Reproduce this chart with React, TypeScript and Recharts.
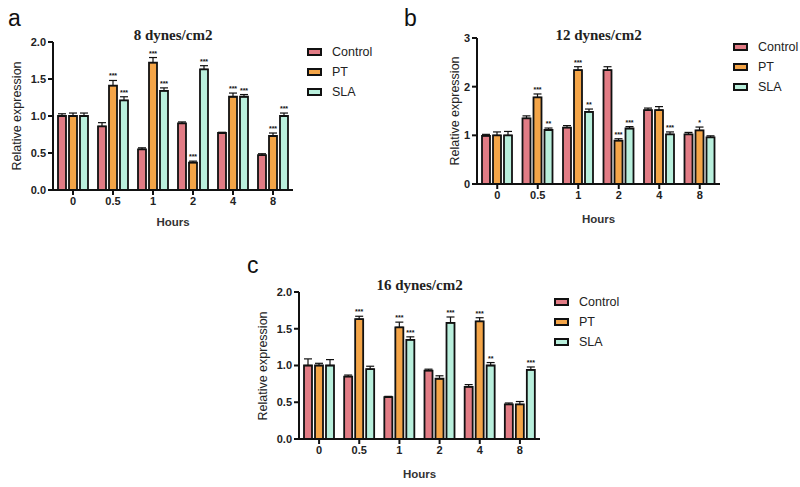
import React from 'react';
import { BarChart, Bar, XAxis, YAxis, ErrorBar, LabelList } from 'recharts';

const hours = ['0', '0.5', '1', '2', '4', '8'];
const seriesNames = ['Control', 'PT', 'SLA'];
const seriesColors = ['#e27c85', '#f4a548', '#b9efdc'];

// panel a: 8 dynes/cm2
const controlA = [1.0, 0.86, 0.55, 0.9, 0.77, 0.47];
const ptA = [1.0, 1.41, 1.72, 0.37, 1.26, 0.73];
const slaA = [1.0, 1.21, 1.34, 1.63, 1.26, 1.0];
const controlErrA = [0.03, 0.05, 0.02, 0.02, 0.01, 0.02];
const ptErrA = [0.04, 0.07, 0.07, 0.02, 0.05, 0.04];
const slaErrA = [0.04, 0.05, 0.04, 0.05, 0.03, 0.04];
const ptStarsA = ['', '***', '***', '***', '***', '***'];
const slaStarsA = ['', '***', '***', '***', '***', '***'];

// panel b: 12 dynes/cm2
const controlB = [0.99, 1.35, 1.16, 2.34, 1.52, 1.02];
const ptB = [1.0, 1.78, 2.34, 0.89, 1.52, 1.1];
const slaB = [1.0, 1.11, 1.48, 1.14, 1.02, 0.96];
const controlErrB = [0.03, 0.05, 0.04, 0.07, 0.04, 0.04];
const ptErrB = [0.07, 0.07, 0.07, 0.04, 0.07, 0.07];
const slaErrB = [0.08, 0.04, 0.06, 0.04, 0.05, 0.03];
const ptStarsB = ['', '***', '***', '***', '', '*'];
const slaStarsB = ['', '**', '**', '***', '***', ''];

// panel c: 16 dynes/cm2
const controlC = [1.0, 0.85, 0.57, 0.93, 0.71, 0.47];
const ptC = [1.0, 1.63, 1.52, 0.82, 1.6, 0.47];
const slaC = [1.0, 0.95, 1.35, 1.58, 1.0, 0.94];
const controlErrC = [0.09, 0.02, 0.01, 0.02, 0.03, 0.02];
const ptErrC = [0.03, 0.04, 0.07, 0.04, 0.05, 0.04];
const slaErrC = [0.08, 0.04, 0.04, 0.08, 0.04, 0.04];
const ptStarsC = ['', '***', '***', '', '***', ''];
const slaStarsC = ['', '', '***', '***', '**', '***'];

const emptyStars = ['', '', '', '', '', ''];

const ticks2 = [0, 0.5, 1, 1.5, 2];
const ticks3 = [0, 1, 2, 3];

const sans = 'Arial, "Liberation Sans", sans-serif';
const serif = '"Times New Roman", "Liberation Serif", serif';

function buildRows(vals: number[][], errs: number[][]) {
  return hours.map((h, i) => ({
    hour: h,
    s0: vals[0][i], s1: vals[1][i], s2: vals[2][i],
    e0: [0, errs[0][i]], e1: [0, errs[1][i]], e2: [0, errs[2][i]],
  }));
}

function starsLabel(vals: number[], errs: number[], stars: string[]) {
  return (p: any) => {
    const i = p.index;
    const s = stars[i];
    if (!s) return null;
    const pxPerUnit = p.height / vals[i];
    const top = p.y - errs[i] * pxPerUnit - 2;
    return (
      <text x={p.x + p.width / 2} y={top} textAnchor="middle" fontSize={7} fontWeight="bold" fontFamily={sans} fill="#111">
        {s}
      </text>
    );
  };
}

function LegendBox({ x, y }: { x: number; y: number }) {
  return (
    <div style={{ position: 'absolute', left: x, top: y }}>
      {seriesNames.map((n, i) => (
        <div key={n} style={{ display: 'flex', alignItems: 'center', height: 20, fontFamily: sans, fontSize: 12.5, color: '#222' }}>
          <span style={{ display: 'inline-block', width: 11, height: 4, background: seriesColors[i], border: '2px solid #111', marginRight: 10 }} />
          {n}
        </div>
      ))}
    </div>
  );
}

interface PanelProps {
  letter: string;
  title: string;
  x0: number; y0: number; w: number; h: number;
  vals: number[][]; errs: number[][]; stars: string[][];
  domainMax: number; ticks: number[]; fixed: number;
  legendX: number; legendY: number;
  letterPos: [number, number];
  titleY: number;
  yLabelX: number;
  hoursY: number;
}

function Panel(p: PanelProps) {
  const rows = buildRows(p.vals, p.errs);
  const left = p.x0 - 50;
  const top = p.y0 - 10;
  return (
    <>
      <div style={{ position: 'absolute', left: p.letterPos[0], top: p.letterPos[1], fontFamily: sans, fontSize: 23, color: '#111', lineHeight: 1 }}>{p.letter}</div>
      <div style={{ position: 'absolute', left: p.x0, width: p.w, top: p.titleY, textAlign: 'center', fontFamily: serif, fontWeight: 'bold', fontSize: 15, color: '#222', lineHeight: 1 }}>{p.title}</div>
      <div style={{ position: 'absolute', left: p.yLabelX - 80, width: 160, top: p.y0 + p.h / 2 - 8, textAlign: 'center', transform: 'rotate(-90deg)', fontFamily: sans, fontSize: 12.5, color: '#222', lineHeight: '16px' }}>Relative expression</div>
      <div style={{ position: 'absolute', left: p.x0, width: p.w, top: p.hoursY - 7, textAlign: 'center', fontFamily: sans, fontWeight: 'bold', fontSize: 11.5, color: '#333', lineHeight: 1 }}>Hours</div>
      <LegendBox x={p.legendX} y={p.legendY} />
      <div style={{ position: 'absolute', left, top }}>
        <BarChart width={p.w + 60} height={p.h + 50} data={rows} margin={{ top: 10, right: 10, bottom: 10, left: 10 }} barSize={8} barGap={3}>
          <XAxis dataKey="hour" axisLine={{ stroke: '#111', strokeWidth: 2 }} tickLine={{ stroke: '#111', strokeWidth: 2 }} tickSize={5} height={30}
            tick={{ fill: '#222', fontSize: 11, fontWeight: 'bold', fontFamily: sans }} interval={0} />
          <YAxis width={40} domain={[0, p.domainMax]} ticks={p.ticks} allowDataOverflow axisLine={{ stroke: '#111', strokeWidth: 2 }} tickLine={{ stroke: '#111', strokeWidth: 2 }} tickSize={5}
            tick={{ fill: '#222', fontSize: 11, fontWeight: 'bold', fontFamily: sans }} tickFormatter={(v: number) => v.toFixed(p.fixed)} />
          {[0, 1, 2].map((k) => (
            <Bar key={k} dataKey={'s' + k} name={seriesNames[k]} fill={seriesColors[k]} stroke="#111" strokeWidth={1.8} isAnimationActive={false}>
              <ErrorBar dataKey={'e' + k} width={4} stroke="#111" strokeWidth={1.2} direction="y" />
              <LabelList dataKey={'s' + k} content={starsLabel(p.vals[k], p.errs[k], p.stars[k])} />
            </Bar>
          ))}
        </BarChart>
      </div>
    </>
  );
}

export default function App() {
  return (
    <div style={{ position: 'relative', width: 800, height: 487, background: '#fff', overflow: 'hidden' }}>
      <style>{'body{margin:0}'}</style>
      <Panel letter="a" title="8 dynes/cm2" x0={53} y0={42} w={240} h={148}
        vals={[controlA, ptA, slaA]} errs={[controlErrA, ptErrA, slaErrA]} stars={[emptyStars, ptStarsA, slaStarsA]}
        domainMax={2} ticks={ticks2} fixed={1} legendX={307} legendY={42} letterPos={[8, 7]} titleY={28} yLabelX={17} hoursY={224} />
      <Panel letter="b" title="12 dynes/cm2" x0={477} y0={38} w={243} h={146}
        vals={[controlB, ptB, slaB]} errs={[controlErrB, ptErrB, slaErrB]} stars={[emptyStars, ptStarsB, slaStarsB]}
        domainMax={3} ticks={ticks3} fixed={0} legendX={733} legendY={37} letterPos={[404, 7]} titleY={28} yLabelX={455} hoursY={221} />
      <Panel letter="c" title="16 dynes/cm2" x0={299} y0={292} w={241} h={147}
        vals={[controlC, ptC, slaC]} errs={[controlErrC, ptErrC, slaErrC]} stars={[emptyStars, ptStarsC, slaStarsC]}
        domainMax={2} ticks={ticks2} fixed={1} legendX={554} legendY={292} letterPos={[247, 254]} titleY={278} yLabelX={263} hoursY={476} />
    </div>
  );
}
